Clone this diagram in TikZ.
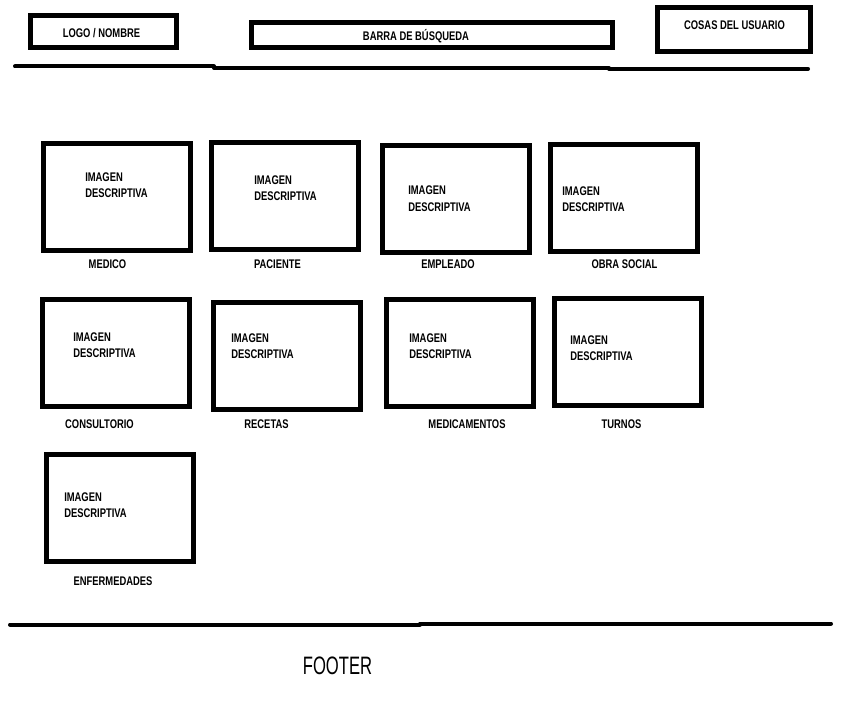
\documentclass[tikz,border=0pt]{standalone}
\usepackage{fontspec}
\usepackage{tikz}
\usetikzlibrary{arrows}
\newfontfamily\wirefont[FakeStretch=0.75]{Liberation Sans}
\newfontfamily\footfont[FakeStretch=0.66]{Liberation Sans}

\begin{document}
\begin{tikzpicture}[x=0.75pt,y=-0.75pt,
	caja/.style={draw=black,line width=3.75pt,rectangle,inner sep=0pt},
	texto/.style={font=\wirefont\bfseries\fontsize{9.4}{12.4}\selectfont,inner sep=0pt},
	imagen/.style={texto,align=left,anchor=west},
	linea/.style={line width=3pt,line cap=round}]
	\pgfmathsetmacro{\cajaw}{147*0.75}
\pgfmathsetmacro{\cajah}{107*0.75}
\useasboundingbox (0,0) rectangle (852,710);
% cabecera
\node[caja,minimum width=146*0.75pt,minimum height=32*0.75pt] (logo) at (103.5,31.5) {};
\node[texto] (logotxt) at (101.5,33) {LOGO / NOMBRE};
\node[caja,minimum width=361*0.75pt,minimum height=25*0.75pt] (barra) at (432,35) {};
\node[texto] (barratxt) at (416,36) {BARRA DE BÚSQUEDA};
\node[caja,minimum width=153*0.75pt,minimum height=44*0.75pt] (usuario) at (734,29.5) {};
\node[texto] (usuariotxt) at (734.5,25.5) {COSAS DEL USUARIO};
\coordinate (h1) at (15,66.5);
\coordinate (h2) at (214,66.5);
\coordinate (h3) at (214,68);
\coordinate (h4) at (609,68);
\coordinate (h5) at (609,68.8);
\coordinate (h6) at (808,68.8);
\draw[linea] (h1) -- (h2);
\draw[linea] (h3) -- (h4);
\draw[linea] (h5) -- (h6);
% tarjetas
\foreach \nombre/\cx/\cy/\tx/\ty/\lx/\ly/\etiq in {
	medico/117/197/85/177/107.5/264/MEDICO,
	paciente/285/196/254/180/277.5/264/PACIENTE,
	empleado/456/199/408/190.5/448/264/EMPLEADO,
	obrasocial/624/198/562/191/624.5/264/OBRA SOCIAL,
	consultorio/116/353/73/337/99.5/424.5/CONSULTORIO,
	recetas/287/356/231/338/266.5/424.5/RECETAS,
	medicamentos/460/353/409/338/467/424.5/MEDICAMENTOS,
	turnos/628/352/570/340/621.5/424.5/TURNOS,
	enfermedades/120/508/64/497/113/581/ENFERMEDADES}
{
\node[caja,minimum width=\cajaw pt,minimum height=\cajah pt] (\nombre) at (\cx,\cy) {};
\node[imagen] (\nombre img) at (\tx,\ty+8.25) {IMAGEN\\DESCRIPTIVA};
\node[texto] (\nombre lbl) at (\lx,\ly) {\etiq};
}
% pie
\coordinate (f1) at (10,624.5);
\coordinate (f2) at (420,624.5);
\coordinate (f3) at (420,623.5);
\coordinate (f4) at (831,623.5);
\draw[linea] (f1) -- (f2);
\draw[linea] (f3) -- (f4);
\node[font=\footfont\fontsize{18.9}{20}\selectfont,inner sep=0pt] (footer) at (337.5,666) {FOOTER};
\end{tikzpicture}
\end{document}
